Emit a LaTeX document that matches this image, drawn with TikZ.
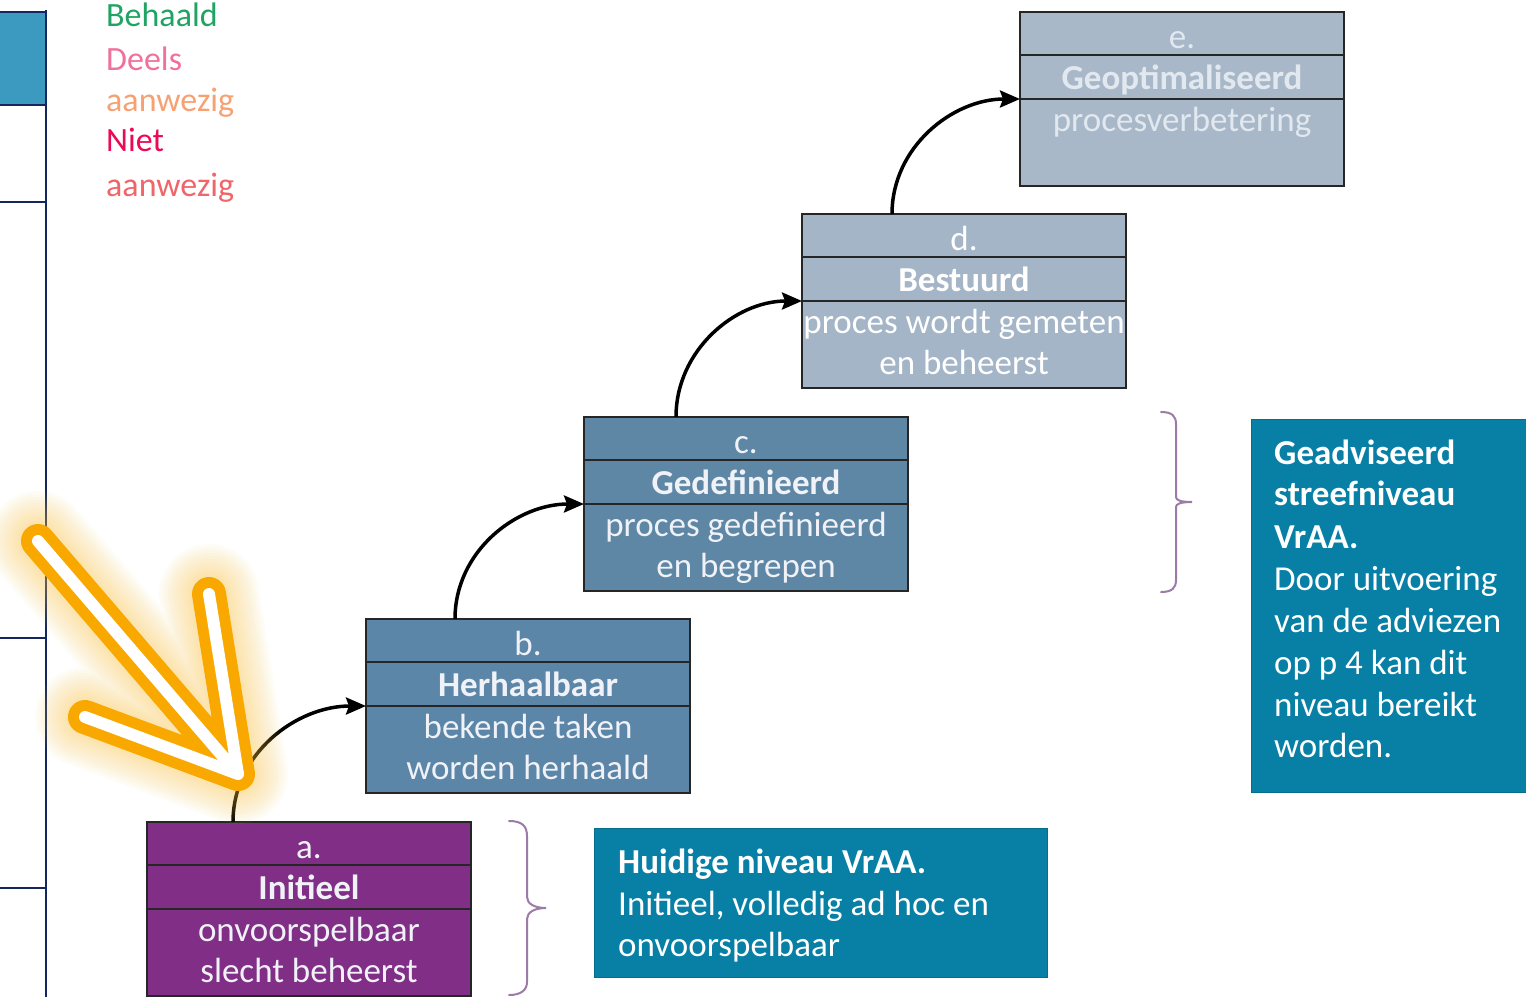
\documentclass[tikz,border=0pt]{standalone}
\usepackage{fontspec}
\setmainfont{Carlito}
\usetikzlibrary{arrows.meta}
\definecolor{lvlA}{RGB}{128,46,134}
\definecolor{lvlB}{RGB}{92,134,168}
\definecolor{lvlC}{RGB}{94,135,166}
\definecolor{lvlD}{RGB}{163,181,198}
\definecolor{lvlE}{RGB}{168,184,200}
\definecolor{infoblue}{RGB}{8,128,166}
\definecolor{cellblue}{RGB}{60,154,192}
\definecolor{navy}{RGB}{20,38,95}
\definecolor{bracecol}{RGB}{156,123,166}
\definecolor{glowcol}{RGB}{249,168,0}
\definecolor{halocol}{RGB}{252,196,60}
\definecolor{txtlight}{RGB}{240,242,247}
\definecolor{txtfade}{RGB}{226,232,240}
\definecolor{legGreen}{RGB}{31,164,99}
\definecolor{legPink}{RGB}{240,114,155}
\definecolor{legOrange}{RGB}{247,161,115}
\definecolor{legRed}{RGB}{235,10,85}
\definecolor{legSalmon}{RGB}{240,101,106}
\tikzset{
  lvlbox/.style={draw=black!85, line width=1.8pt, rectangle, minimum width=324pt,
    minimum height=174pt, inner sep=0pt, outer sep=0pt, anchor=north west},
  rowline/.style={black!85, line width=1.8pt},
  boxtxt/.style={font=\fontsize{35}{40}\selectfont, inner sep=0pt, text height=23pt, text depth=7pt},
  infobox/.style={rectangle, fill=infoblue, draw=infoblue!85!black, line width=0.8pt,
    inner sep=0pt, outer sep=0pt, anchor=north west},
  infotxt/.style={font=\fontsize{35}{40}\selectfont, text=white, inner sep=0pt,
    text height=23pt, text depth=7pt, anchor=west},
  legtxt/.style={font=\fontsize{34}{38}\selectfont, inner sep=0pt,
    text height=23pt, text depth=7pt, anchor=west},
  stepconn/.style={line width=3.5pt, black, -{Stealth[length=20pt,width=17pt,inset=3pt]}},
  bracepath/.style={bracecol, line width=2pt, line cap=round},
  tablerule/.style={navy, line width=1.3pt}
}
\newcommand{\lvlstep}[9]{%
  \node[lvlbox, fill=#4] (#1) at (#2,#3) {};
  \draw[rowline] ([yshift=-43pt]#1.north west) -- ([yshift=-43pt]#1.north east);
  \draw[rowline] ([yshift=-87pt]#1.north west) -- ([yshift=-87pt]#1.north east);
  \node[boxtxt, text=#5] (#1-nr) at ([yshift=-28pt]#1.north) {#6};
  \node[boxtxt, text=#5] (#1-title) at ([yshift=-69pt]#1.north) {\bfseries #7};
  \node[boxtxt, text=#5] (#1-l1) at ([yshift=-111pt]#1.north) {#8};
  \node[boxtxt, text=#5] (#1-l2) at ([yshift=-152pt]#1.north) {#9};
}
\begin{document}
\begin{tikzpicture}[x=1pt,y=-1pt]
\useasboundingbox (0,0) rectangle (1526,997);
\fill[white] (0,0) rectangle (1526,997);

% left table fragment
\fill[cellblue] (0,12) rectangle (46,105);
\draw[tablerule] (0,12) -- (46,12);
\draw[tablerule] (0,105) -- (46,105);
\draw[tablerule] (0,202) -- (46,202);
\draw[tablerule] (0,638) -- (46,638);
\draw[tablerule] (0,888) -- (46,888);
\draw[navy, line width=2.4pt] (46,10) -- (46,997);

% legend
\node[legtxt, text=legGreen] (leg1) at (106,18) {Behaald};
\node[legtxt, text=legPink] (leg2) at (106,62) {Deels};
\node[legtxt, text=legOrange] (leg3) at (106,103) {aanwezig};
\node[legtxt, text=legRed] (leg4) at (106,143) {Niet};
\node[legtxt, text=legSalmon] (leg5) at (106,188) {aanwezig};

% level boxes
\lvlstep{a}{147}{822}{lvlA}{txtlight}{a.}{Initieel}{onvoorspelbaar}{slecht beheerst}
\lvlstep{b}{366}{619}{lvlB}{txtlight}{b.}{Herhaalbaar}{bekende taken}{worden herhaald}
\lvlstep{c}{584}{417}{lvlC}{txtlight}{c.}{Gedefinieerd}{proces gedefinieerd}{en begrepen}
\lvlstep{d}{802}{214}{lvlD}{white}{d.}{Bestuurd}{proces wordt gemeten}{en beheerst}
\lvlstep{e}{1020}{12}{lvlE}{txtfade}{e.}{Geoptimaliseerd}{procesverbetering}{}

% connectors
\draw[stepconn] ([xshift=86pt]a.north west) to[out=90,in=180] ([yshift=-87pt]b.north west);
\draw[stepconn] ([xshift=89pt]b.north west) to[out=90,in=180] ([yshift=-87pt]c.north west);
\draw[stepconn] ([xshift=92pt]c.north west) to[out=90,in=180] ([yshift=-87pt]d.north west);
\draw[stepconn] ([xshift=90pt]d.north west) to[out=90,in=180] ([yshift=-87pt]e.north west);

% braces
\draw[bracepath] (509,821) .. controls (522,821) and (527,826) .. (527,836) -- (527,897)
  .. controls (527,904) and (535,908) .. (546,908)
  .. controls (535,908) and (527,912) .. (527,919) -- (527,982)
  .. controls (527,990) and (521,995) .. (509,995);
\draw[bracepath] (1161,412) .. controls (1172,412) and (1176,416) .. (1176,424) -- (1176,497)
  .. controls (1176,500) and (1180,502) .. (1192,502)
  .. controls (1180,502) and (1176,504) .. (1176,507) -- (1176,580)
  .. controls (1176,588) and (1172,592) .. (1161,592);

% info boxes
\node[infobox, minimum width=453pt, minimum height=149pt] (now) at (594,828) {};
\node[infotxt] (now-1) at (618,865) {\bfseries Huidige niveau VrAA.};
\node[infotxt] (now-2) at (618,907) {Initieel, volledig ad hoc en};
\node[infotxt] (now-3) at (618,948) {onvoorspelbaar};

\node[infobox, minimum width=290pt, minimum height=373pt] (goal) at (1251,419) {};
\node[infotxt] (goal-1) at (1274,456) {\bfseries Geadviseerd};
\node[infotxt] (goal-2) at (1274,497) {\bfseries streefniveau};
\node[infotxt] (goal-3) at (1274,540) {\bfseries VrAA.};
\node[infotxt] (goal-4) at (1274,582) {Door uitvoering};
\node[infotxt] (goal-5) at (1274,624) {van de adviezen};
\node[infotxt] (goal-6) at (1274,666) {op p 4 kan dit};
\node[infotxt] (goal-7) at (1274,708) {niveau bereikt};
\node[infotxt] (goal-8) at (1274,749) {worden.};

% glowing highlight arrow
\coordinate (hl-start) at (38,541);
\coordinate (hl-tip) at (238,774);
\coordinate (hl-left) at (85,717);
\coordinate (hl-right) at (209,594);
\foreach \w in {100,94,...,40}{
  \draw[halocol, line width=\w pt, line cap=round, line join=round, draw opacity=0.045]
    (hl-start) -- (hl-tip) (hl-left) -- (hl-tip) (hl-right) -- (hl-tip);
}
\draw[glowcol, line width=34pt, line cap=round, line join=round]
  (hl-start) -- (hl-tip) (hl-left) -- (hl-tip) (hl-right) -- (hl-tip);
\draw[white, line width=12pt, line cap=round, line join=round]
  (hl-start) -- (hl-tip) (hl-left) -- (hl-tip) (hl-right) -- (hl-tip);
\end{tikzpicture}
\end{document}
